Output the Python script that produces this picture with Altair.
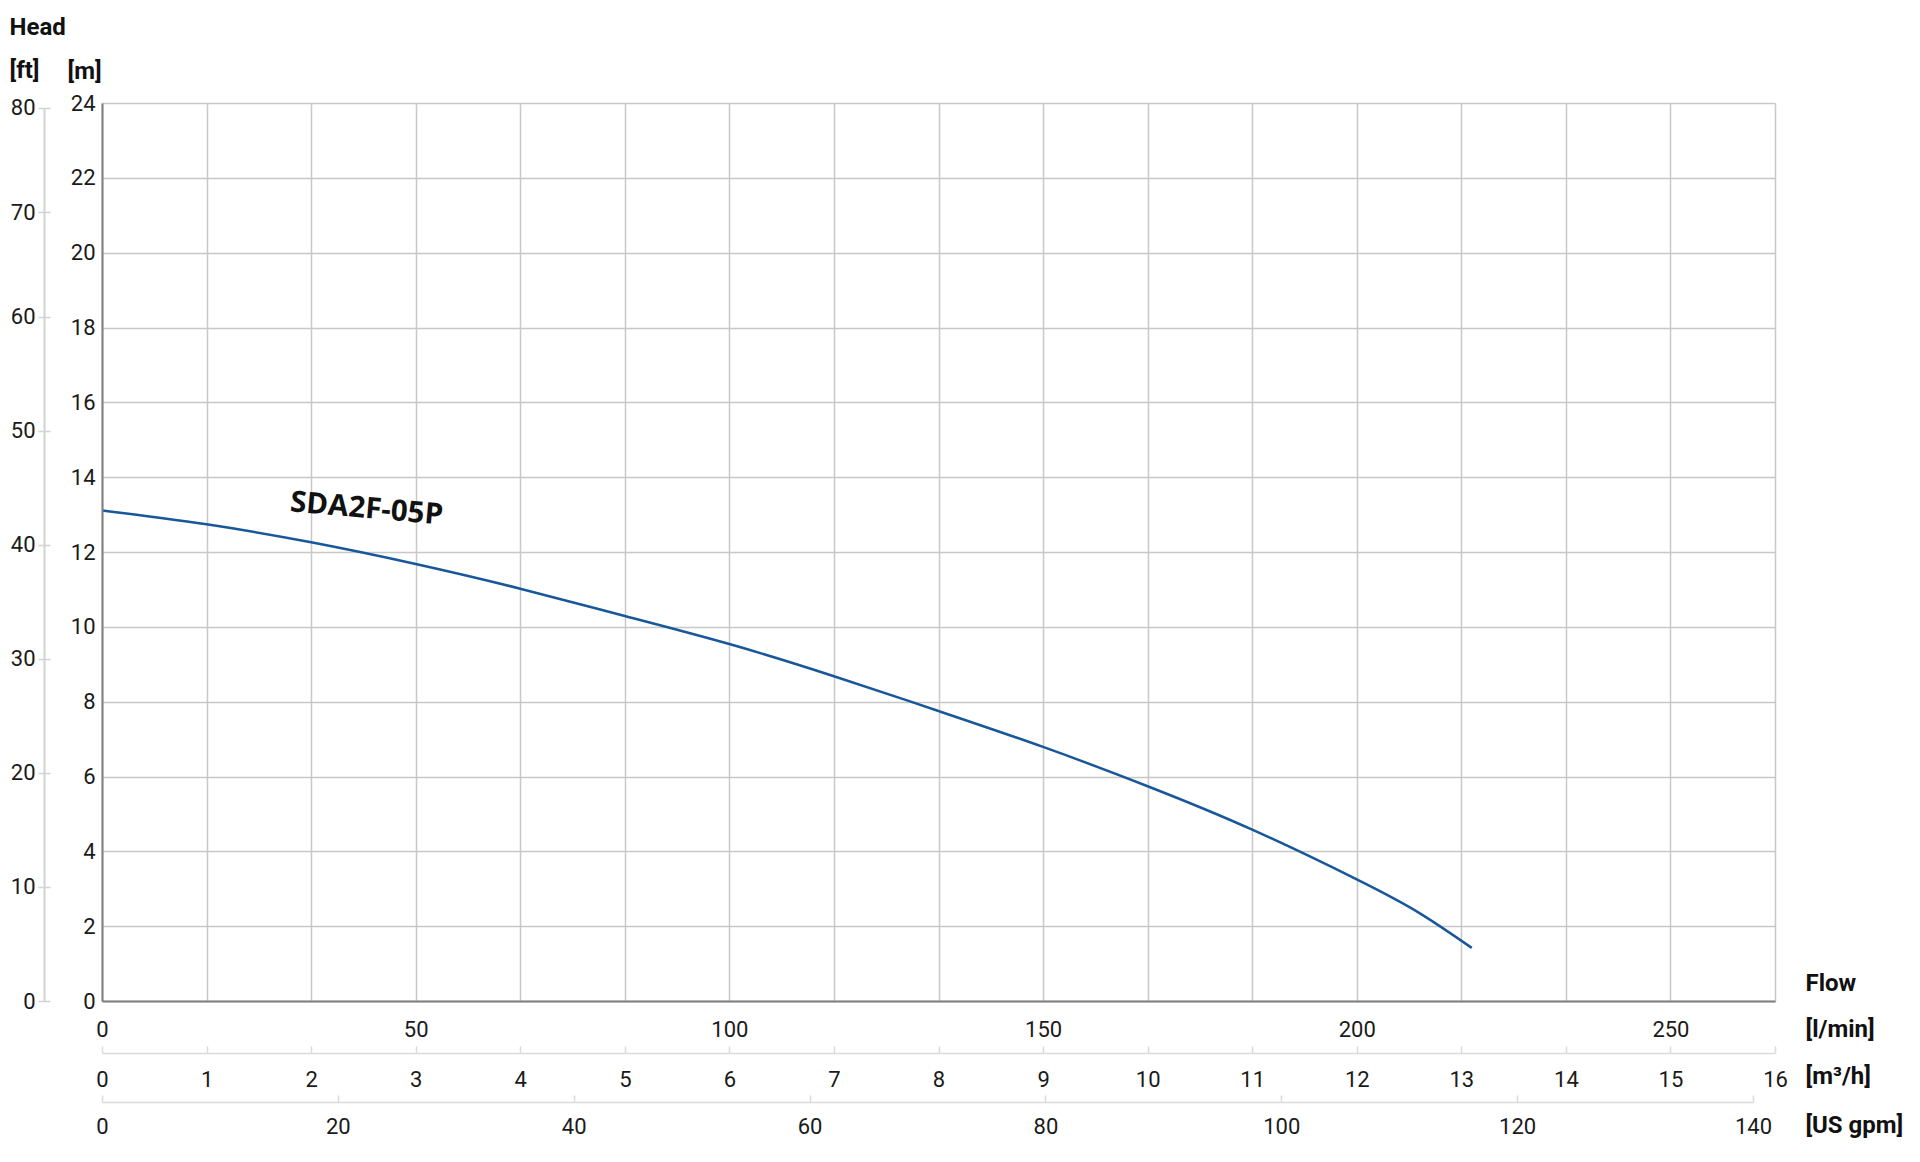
import altair as alt
import pandas as pd

# ---------------- data ----------------
Q_M3H = [0, 1, 2, 3, 4, 5, 6, 7, 8, 9, 10, 11, 12, 12.6, 13.1]
HEAD_M = [13.11, 12.74, 12.26, 11.68, 11.02, 10.29, 9.54, 8.68, 7.75, 6.79, 5.74, 4.58, 3.25, 2.35, 1.42]

M3H_TICKS = list(range(0, 17))
LMIN_TICKS = [0, 50, 100, 150, 200, 250]
GPM_TICKS = [0, 20, 40, 60, 80, 100, 120, 140]
M_TICKS = list(range(0, 25, 2))
FT_TICKS = [0, 10, 20, 30, 40, 50, 60, 70, 80]

CURVE_NAME = ["SDA2F-05P"]
CURVE_NAME_Q = [2.53]
CURVE_NAME_H = [13.15]

# ---------------- layout / style ----------------
W, H = 1673, 898
LBL_FONT = "Roboto"
TTL_FONT = "Roboto"
GRID = "#c8c8c8"
DARK = "#7f7f7f"
LIGHT = "#dadada"
TXT = "#1a1a1a"

curve_df = pd.DataFrame({"q": Q_M3H, "h": HEAD_M})
label_df = pd.DataFrame({"q": CURVE_NAME_Q, "h": CURVE_NAME_H, "t": CURVE_NAME})
ft_df = pd.DataFrame({"ft": FT_TICKS})
lmin_df = pd.DataFrame({"lmin": LMIN_TICKS})
gpm_df = pd.DataFrame({"gpm": GPM_TICKS})

xq_scale = alt.Scale(domain=[0, 16], nice=False, zero=False)
ym_scale = alt.Scale(domain=[0, 24], nice=False, zero=False)

# grid + curve label
grid_label = alt.Chart(label_df).mark_text(
    font="Open Sans", fontWeight="bold", fontSize=29.5, angle=5,
    align="center", baseline="middle", color="#111111"
).encode(
    x=alt.X("q:Q", scale=xq_scale, axis=alt.Axis(
        orient="bottom", values=M3H_TICKS, grid=True, gridColor=GRID, gridWidth=1.5,
        labels=False, ticks=False, domain=False, title=None)),
    y=alt.Y("h:Q", scale=ym_scale, axis=alt.Axis(
        orient="left", values=M_TICKS, grid=True, gridColor=GRID, gridWidth=1.5,
        labels=False, ticks=False, domain=False, title=None)),
    text="t:N",
)

curve = alt.Chart(curve_df).mark_line(
    interpolate="natural", color="#18579a", strokeWidth=2.5
).encode(
    x=alt.X("q:Q", scale=xq_scale, axis=alt.Axis(
        orient="top", offset=-950, values=M3H_TICKS, grid=False,
        domainColor=LIGHT, domainWidth=1.5, tickColor=LIGHT, tickWidth=1.5, tickSize=7,
        labelPadding=-33.6, labelBaseline="middle", labelFlush=False, labelOverlap=False,
        format="d", title="[m³/h]", titleX=1703, titleY=30, titleAlign="left",
        titleAngle=0, titleBaseline="alphabetic")),
    y=alt.Y("h:Q", scale=ym_scale, axis=alt.Axis(
        orient="left", values=M_TICKS, grid=False, ticks=False, tickSize=0,
        domainColor=DARK, domainWidth=2, labelPadding=7, labelFlush=False,
        labelOverlap=False, format="d",
        title="[m]", titleX=-35, titleY=-24.7, titleAlign="left", titleAngle=0,
        titleBaseline="alphabetic", zindex=1)),
)

ft_range = [H, H - 60 * 0.3048 * H / 24, H - 893.4]

ft_axis = alt.Chart(ft_df).mark_point(opacity=0).encode(
    y=alt.Y("ft:Q", scale=alt.Scale(domain=[0, 60, 80], range=ft_range, nice=False, zero=False),
            axis=alt.Axis(
                orient="left", offset=58, values=FT_TICKS, grid=False, ticks=False, tickSize=0,
                domainColor="#d2d2d2", domainWidth=2, labelPadding=9, labelFlush=False,
                labelOverlap=False, format="d",
                title=["Head", "[ft]"], titleLineHeight=43.3, titleX=-35, titleY=-68.5,
                titleAlign="left", titleAngle=0, titleBaseline="alphabetic")),
)

ft_ticks = alt.Chart(ft_df).mark_point(opacity=0).encode(
    y=alt.Y("ft:Q", scale=alt.Scale(domain=[0, 60, 80], range=ft_range, nice=False, zero=False),
            axis=alt.Axis(
                orient="left", offset=52, values=FT_TICKS, grid=False, domain=False,
                labels=False, ticks=True, tickSize=12, tickColor="#d2d2d2", tickWidth=1.5,
                title=None)),
)

lmin_axis = alt.Chart(lmin_df).mark_point(opacity=0).encode(
    x=alt.X("lmin:Q", scale=alt.Scale(domain=[0, 16 * 1000 / 60], nice=False, zero=False),
            axis=alt.Axis(
                orient="bottom", values=LMIN_TICKS, grid=False, ticks=False, tickSize=0,
                domainColor=DARK, domainWidth=2, labelPadding=28.4, labelBaseline="middle",
                labelFlush=False, labelOverlap=False, format="d",
                title=["Flow", "[l/min]"], titleLineHeight=45.5, titleX=1703, titleY=-10.3,
                titleAlign="left", titleAngle=0, titleBaseline="alphabetic", zindex=1)),
)

gpm_axis = alt.Chart(gpm_df).mark_point(opacity=0).encode(
    x=alt.X("gpm:Q", scale=alt.Scale(domain=[0, 140], range=[0, 1651], nice=False, zero=False),
            axis=alt.Axis(
                orient="top", offset=-999, values=GPM_TICKS, grid=False,
                domainColor=LIGHT, domainWidth=1.5, tickColor=LIGHT, tickWidth=1.5, tickSize=7,
                labelPadding=-31.1, labelBaseline="middle", labelFlush=False, labelOverlap=False,
                format="d", title="[US gpm]", titleX=1703, titleY=30.7, titleAlign="left",
                titleAngle=0, titleBaseline="alphabetic")),
)

chart = alt.layer(
    grid_label, curve, ft_axis, ft_ticks, lmin_axis, gpm_axis
).resolve_scale(
    x="independent", y="independent"
).properties(
    width=W, height=H,
    autosize=alt.AutoSizeParams(type="none"),
    padding={"left": 94, "top": 95, "right": 137, "bottom": 150},
    background="white",
).configure_view(
    strokeWidth=0
).configure_axis(
    labelFont=LBL_FONT, labelFontSize=22, labelColor=TXT,
    titleFont=TTL_FONT, titleFontSize=24, titleFontWeight="bold", titleColor="#111111",
)

chart.save("out.html", embed_options={"renderer": "svg", "actions": False})
